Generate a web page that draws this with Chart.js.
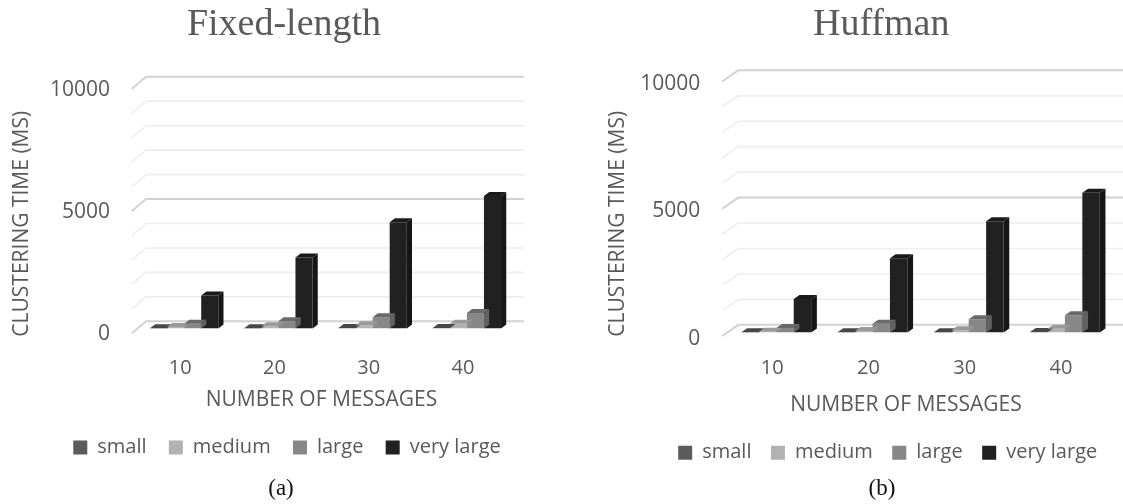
<!DOCTYPE html>
<html><head><meta charset="utf-8">
<script src="https://cdn.jsdelivr.net/npm/chart.js@4"></script>
<style>
html,body{margin:0;padding:0;background:#fff;width:1123px;height:504px;overflow:hidden}
canvas{position:absolute;top:0}
.cap{position:absolute;top:475px;font:23px "Liberation Serif",serif;color:#111;transform:translateX(-50%)}
</style></head><body>
<canvas id="a" style="left:0"></canvas>
<canvas id="b" style="left:562px"></canvas>
<div class="cap" style="left:281px">(a)</div>
<div class="cap" style="left:882px">(b)</div>
<script>
const categories = ['10','20','30','40'];
const seriesNames = ['small','medium','large','very large'];
const fixedSmall = [15,15,20,25];
const fixedMedium = [60,90,130,190];
const fixedLarge = [190,300,460,630];
const fixedVeryLarge = [1350,2900,4350,5420];
const huffSmall = [10,10,15,20];
const huffMedium = [30,60,90,150];
const huffLarge = [180,350,520,680];
const huffVeryLarge = [1320,2920,4375,5490];
const yMax = 10000, yStep = 1000, yLabelStep = 5000;
const front = ['#5c5c5c','#b2b2b2','#878787','#212121'];
const side  = ['#444444','#8f8f8f','#626262','#161616'];
const top3d = ['#474747','#9a9a9a','#6a6a6a','#1a1a1a'];

const depth3d = {
  id:'depth3d',
  afterLayout(c,_,o){
    if(c.titleBlock){c.titleBlock.left+=o.titleDx;c.titleBlock.right+=o.titleDx;}
    if(c.legend){c.legend.left+=o.legendDx;c.legend.right+=o.legendDx;}
  },
  beforeDatasetsDraw(c,_,o){
    const g=c.ctx,y=c.scales.y,a=c.chartArea;
    g.save();
    y.ticks.forEach(t=>{
      const p=y.getPixelForValue(t.value);
      const major=t.value%yLabelStep===0;
      g.strokeStyle=major?'#d2d2d2':'#eeeeee';
      g.lineWidth=major?2:1.6;
      g.beginPath();
      g.moveTo(a.left+o.wallFx,p+o.wallFy);
      g.lineTo(a.left+o.wallBx,p-o.backDy);
      g.lineTo(a.left+o.gridRight,p-o.backDy);
      g.stroke();
    });
    g.restore();
  },
  afterDatasetsDraw(c,_,o){
    const g=c.ctx;
    g.save();
    c.data.datasets.forEach((d,i)=>{
      c.getDatasetMeta(i).data.forEach(b=>{
        const l=b.x-b.width/2,r=b.x+b.width/2,t=b.y,bt=b.base,dx=o.barDx,dy=o.barDy;
        g.fillStyle=top3d[i];
        g.beginPath();g.moveTo(l,t);g.lineTo(l+dx,t-dy);g.lineTo(r+dx,t-dy);g.lineTo(r,t);g.closePath();g.fill();
        g.fillStyle=side[i];
        g.beginPath();g.moveTo(r,t);g.lineTo(r+dx,t-dy);g.lineTo(r+dx,bt-dy);g.lineTo(r,bt);g.closePath();g.fill();
      });
    });
    g.restore();
  }
};
function shiftTitle(s,dx,dy){
  if(s._shifted) return;
  s._shifted=true;
  const orig=s.drawTitle;
  s.drawTitle=function(){const g=this.ctx;g.save();g.translate(dx,dy);orig.call(this);g.restore();};
}

function make(id,w,h,title,vals,cfg){
  const cv=document.getElementById(id);
  cv.width=w;cv.height=h;cv.style.width=w+'px';cv.style.height=h+'px';
  return new Chart(cv,{
    type:'bar',
    plugins:[depth3d],
    data:{labels:categories,datasets:vals.map((v,i)=>({label:seriesNames[i],data:v,backgroundColor:front[i],borderWidth:0,categoryPercentage:0.725,barPercentage:1}))},
    options:{
      responsive:false,animation:false,
      layout:{padding:{left:cfg.padL,right:cfg.padR,top:2,bottom:cfg.padB}},
      plugins:{
        tooltip:{enabled:false},
        title:{display:true,text:title,color:'#595959',font:{family:'"Liberation Serif"',size:38,weight:'normal'},padding:{top:0,bottom:cfg.titleBottom}},
        legend:{position:'bottom',labels:{boxWidth:14,boxHeight:14,padding:cfg.legPad,color:'#595959',font:{family:'"Open Sans"',size:20}}},
        depth3d:cfg.depth
      },
      scales:{
        x:{
          grid:{display:false,drawTicks:false},border:{display:false},
          ticks:{color:'#595959',font:{family:'"Open Sans"',size:20},padding:cfg.xPad,maxRotation:0,labelOffset:-4},
          title:{display:true,text:'NUMBER OF MESSAGES',color:'#595959',font:{family:'"Open Sans"',size:21},padding:{top:0,bottom:cfg.xTitleBottom}},
          afterFit:s=>{s.height=cfg.xHeight;shiftTitle(s,cfg.xShift,0);}
        },
        y:{
          min:0,max:yMax,
          grid:{display:false,drawTicks:false},border:{display:false},
          ticks:{stepSize:yStep,autoSkip:false,color:'#595959',font:{family:'"Open Sans"',size:21},padding:cfg.yPad,labelOffset:6,
            callback:v=>v%yLabelStep===0?String(v):''},
          title:{display:true,text:'CLUSTERING TIME (MS)',color:'#595959',font:{family:'"Open Sans"',size:21},padding:{top:0,bottom:0}},
          afterFit:s=>{s.width=cfg.yWidth;shiftTitle(s,0,cfg.yShift);}
        }
      }
    }
  });
}
make('a',525,480,'Fixed-length',[fixedSmall,fixedMedium,fixedLarge,fixedVeryLarge],{
  padL:9,padR:11,padB:12.5,titleBottom:36.4,legPad:22.3,xPad:28,xTitleBottom:2.1,xHeight:86.7,xShift:-4,yPad:27,yWidth:128,yShift:17.5,
  depth:{titleDx:22.5,legendDx:25.5,wallFx:-5.3,wallFy:5,wallBx:9,backDy:7.2,gridRight:387,barDx:5.2,barDy:4}
});
make('b',561,480,'Huffman',[huffSmall,huffMedium,huffLarge,huffVeryLarge],{
  padL:43.4,padR:10,padB:7.25,titleBottom:30.4,legPad:19.5,xPad:23.4,xTitleBottom:5.4,xHeight:90.7,xShift:-14.6,yPad:28,yWidth:122.8,yShift:18.5,
  depth:{titleDx:22,legendDx:28.5,wallFx:-5.9,wallFy:3.5,wallBx:10.1,backDy:7.7,gridRight:395,barDx:5.7,barDy:4}
});
</script>
</body></html>
